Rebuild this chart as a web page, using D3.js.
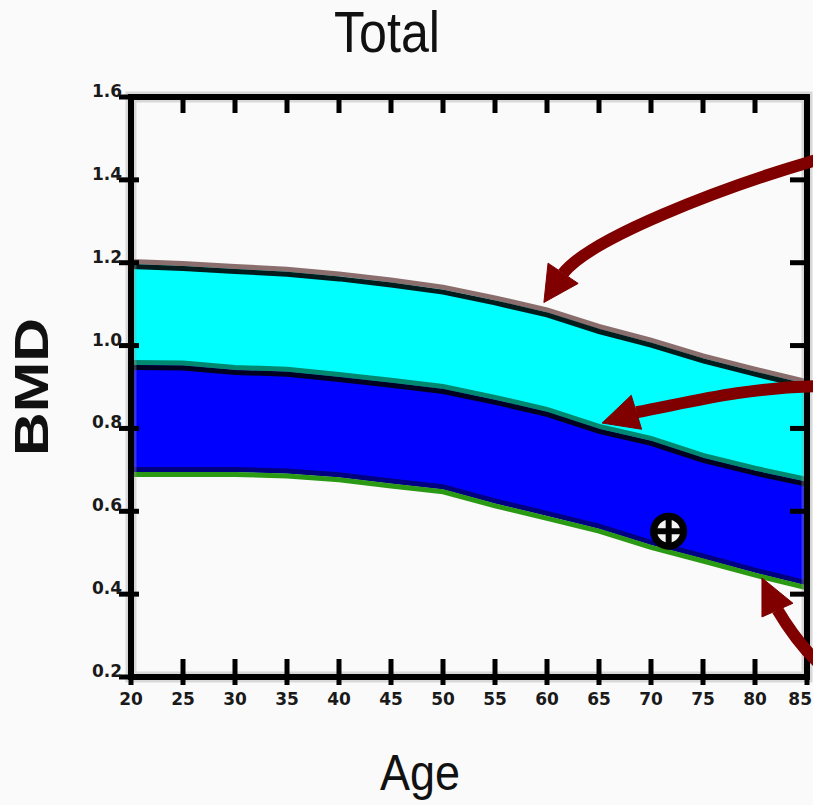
<!DOCTYPE html>
<html>
<head>
<meta charset="utf-8">
<script src="https://cdn.jsdelivr.net/npm/d3@7"></script>
<style>
  html, body { margin: 0; padding: 0; background: #fafafa; }
  svg { display: block; }
</style>
</head>
<body>
<svg id="chart" width="813" height="805"></svg>
<script>
// reference curves
const ages      = [20, 25, 30, 35, 40, 45, 50, 55, 60, 65, 70, 75, 80, 85];
const upperBMD  = [1.197, 1.192, 1.185, 1.178, 1.167, 1.152, 1.135, 1.109, 1.080, 1.040, 1.007, 0.969, 0.937, 0.907];
const middleBMD = [0.953, 0.952, 0.941, 0.937, 0.924, 0.910, 0.895, 0.869, 0.840, 0.799, 0.770, 0.729, 0.698, 0.671];
const lowerBMD  = [0.695, 0.695, 0.695, 0.691, 0.682, 0.667, 0.653, 0.619, 0.589, 0.558, 0.519, 0.486, 0.452, 0.421];
const yTicks    = [0.2, 0.4, 0.6, 0.8, 1.0, 1.2, 1.4, 1.6];

// patient measurement
const patient = [{ age: 71.7, bmd: 0.552 }];

// annotation arrows, in (age, BMD): tail, control 1, control 2, head base, tip, wing, wing
const arrows = [
  [[85.9, 1.448], [76.6, 1.380], [64.1, 1.258], [61.55, 1.174], [59.7, 1.104], [60.1, 1.199], [63.0, 1.150]],
  [[85.9, 0.902], [78.6, 0.897], [73.75, 0.863], [68.6, 0.839], [65.3, 0.813], [68.1, 0.880], [69.1, 0.798]],
  [[86.1, 0.234], [84.3, 0.277], [83.2, 0.318], [82.16, 0.362], [80.67, 0.439], [80.67, 0.345], [83.65, 0.378]]
];

const svg = d3.select('#chart');

const L = 131, R = 807, T = 97, B = 677;

const x = d3.scaleLinear().domain([20, 85]).range([L, R]);
const y = d3.scaleLinear().domain([0.2, 1.6]).range([B, T]);

const rows = ages.map((a, i) => ({ age: a, up: upperBMD[i], mid: middleBMD[i], low: lowerBMD[i] }));

svg.append('rect').attr('width', 813).attr('height', 805).attr('fill', '#fafafa');

// bands
const area = (top, bot) => d3.area()
  .x(d => x(d.age))
  .y0(d => y(d[bot]))
  .y1(d => y(d[top]));

svg.append('path').datum(rows).attr('d', area('up', 'mid')).attr('fill', '#00ffff');
svg.append('path').datum(rows).attr('d', area('mid', 'low')).attr('fill', '#0000ff');

// boundary lines (two offset strokes each)
function edge(key, dy, color) {
  svg.append('path').datum(rows)
    .attr('d', d3.line().x(d => x(d.age)).y(d => y(d[key]) + dy))
    .attr('fill', 'none')
    .attr('stroke', color)
    .attr('stroke-width', 5);
}
edge('up', -2.5, '#8a6e6e');
edge('up', 2.5, '#001c1c');
edge('mid', -2.5, '#008870');
edge('mid', 2.5, '#000022');
edge('low', -2.5, '#000080');
edge('low', 2.5, '#2a9a14');

// patient marker
const mk = svg.append('g').selectAll('g').data(patient).join('g')
  .attr('transform', d => `translate(${x(d.age)},${y(d.bmd)})`);
mk.append('circle').attr('r', 15).attr('fill', '#f4f4f4').attr('stroke', '#000').attr('stroke-width', 7);
mk.append('line').attr('x1', -18).attr('x2', 18).attr('stroke', '#000').attr('stroke-width', 6);
mk.append('line').attr('y1', -18).attr('y2', 18).attr('stroke', '#000').attr('stroke-width', 6);

// frame
svg.append('rect')
  .attr('x', L).attr('y', T).attr('width', R - L).attr('height', B - T)
  .attr('fill', 'none').attr('stroke', '#999').attr('stroke-width', 11).attr('stroke-opacity', 0.35);
svg.append('rect')
  .attr('x', L).attr('y', T).attr('width', R - L).attr('height', B - T)
  .attr('fill', 'none').attr('stroke', '#000').attr('stroke-width', 6);

// ticks
const tk = svg.append('g').attr('stroke', '#000').attr('stroke-width', 5);
tk.selectAll('.tb').data(ages).join('line')
  .attr('x1', d => x(d)).attr('x2', d => x(d)).attr('y1', B - 18).attr('y2', B + 8);
tk.selectAll('.tt').data(ages).join('line')
  .attr('x1', d => x(d)).attr('x2', d => x(d)).attr('y1', T).attr('y2', T + 16);
tk.selectAll('.tl').data(yTicks).join('line')
  .attr('y1', d => y(d)).attr('y2', d => y(d)).attr('x1', L - 12).attr('x2', L + 8);
tk.selectAll('.tr').data(yTicks).join('line')
  .attr('y1', d => y(d)).attr('y2', d => y(d)).attr('x1', R - 17).attr('x2', R);

// tick labels
const lab = svg.append('g')
  .attr('font-family', 'DejaVu Sans, sans-serif')
  .attr('font-weight', 'bold')
  .attr('font-size', 17)
  .attr('fill', '#1a1a1a');
lab.selectAll('.xl').data(ages).join('text')
  .attr('x', (d, i) => i === ages.length - 1 ? 812 : x(d)).attr('y', 700)
  .attr('text-anchor', (d, i) => i === ages.length - 1 ? 'end' : 'middle')
  .attr('dominant-baseline', 'middle')
  .text(d => d);
lab.selectAll('.yl').data(yTicks).join('text')
  .attr('x', 122).attr('y', d => y(d) - 5)
  .attr('text-anchor', 'end').attr('dominant-baseline', 'middle')
  .text(d3.format('.1f'));

// titles
svg.append('text')
  .attr('x', 334).attr('y', 52)
  .attr('font-family', 'Liberation Sans, Arial, sans-serif')
  .attr('font-size', 58)
  .attr('textLength', 106).attr('lengthAdjust', 'spacingAndGlyphs')
  .attr('fill', '#111')
  .text('Total');

svg.append('text')
  .attr('x', 380).attr('y', 790)
  .attr('font-family', 'Liberation Sans, Arial, sans-serif')
  .attr('font-size', 50)
  .attr('textLength', 80).attr('lengthAdjust', 'spacingAndGlyphs')
  .attr('fill', '#111')
  .text('Age');

svg.append('text')
  .attr('transform', 'translate(48,456) rotate(-90)')
  .attr('font-family', 'Liberation Sans, Arial, sans-serif')
  .attr('font-weight', 'bold')
  .attr('font-size', 48)
  .attr('textLength', 138).attr('lengthAdjust', 'spacingAndGlyphs')
  .attr('fill', '#111')
  .text('BMD');

// annotation arrows
const ag = svg.append('g').attr('fill', '#800000').attr('stroke', '#800000');
arrows.forEach(a => {
  const p = a.map(([ag_, b]) => [x(ag_), y(b)]);
  const path = d3.path();
  path.moveTo(p[0][0], p[0][1]);
  path.bezierCurveTo(p[1][0], p[1][1], p[2][0], p[2][1], p[3][0], p[3][1]);
  ag.append('path').attr('d', path.toString()).attr('fill', 'none').attr('stroke-width', 12);
  ag.append('path')
    .attr('d', `M${p[4]}L${p[5]}L${p[6]}Z`)
    .attr('stroke-width', 1);
});
</script>
</body>
</html>
